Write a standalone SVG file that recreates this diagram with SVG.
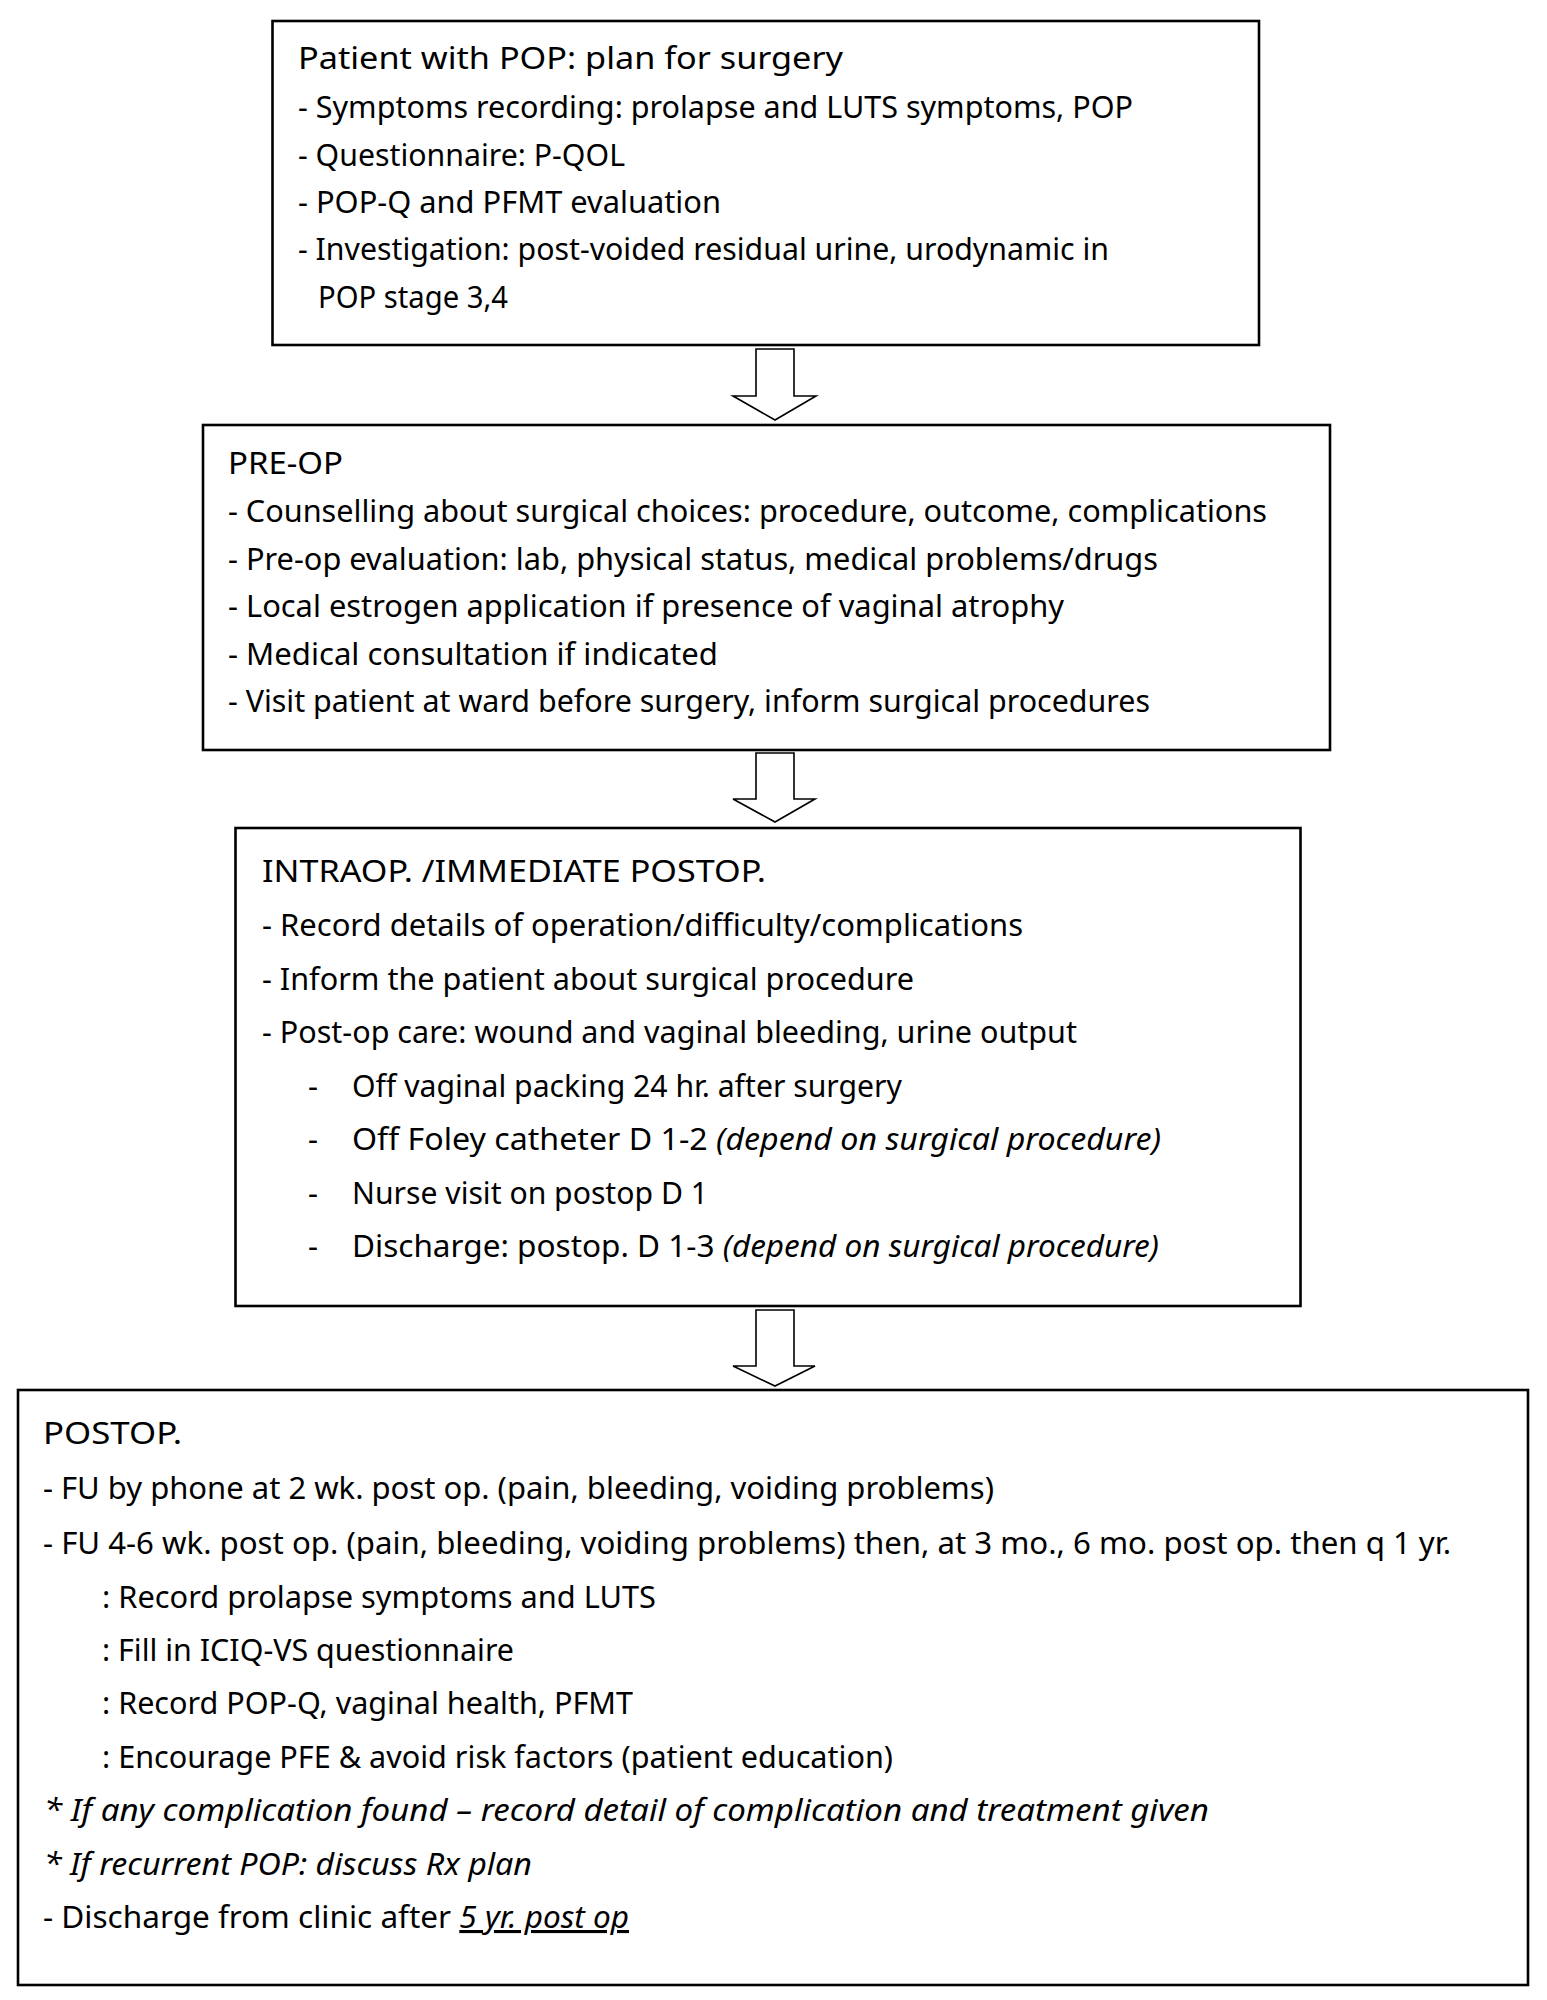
<svg xmlns="http://www.w3.org/2000/svg" width="1547" height="2000" viewBox="0 0 1547 2000">
<style>
.box{fill:#fff;stroke:#000;stroke-width:2.6}
.arrow{fill:#fff;stroke:#000;stroke-width:1.6;stroke-linejoin:miter}
text{font-family:"Noto Sans","Open Sans",sans-serif;fill:#000;font-size:30px}
.b3 text{font-size:31px}
.b4 text{font-size:31px}
.i{font-style:italic}
.u{text-decoration:underline}
</style>
<rect width="1547" height="2000" fill="#fff"/>
<g id="connectors">
<path class="arrow" d="M756,349 H794 V396 H816 L775,420 L733,396 H756 Z"/>
<path class="arrow" d="M756,753 H794 V799 H815 L775,822 L733,799 H756 Z"/>
<path class="arrow" d="M756,1310 H794 V1366 H815 L775,1386 L733,1366 H756 Z"/>
</g>
<g id="node-plan" class="b1">
<rect class="box" x="272.5" y="21" width="986.5" height="324"/>
<text x="298" y="69" textLength="545" lengthAdjust="spacingAndGlyphs">Patient with POP: plan for surgery</text>
<text x="298" y="118" textLength="835" lengthAdjust="spacingAndGlyphs">- Symptoms recording: prolapse and LUTS symptoms, POP</text>
<text x="298" y="166" textLength="327" lengthAdjust="spacingAndGlyphs">- Questionnaire: P-QOL</text>
<text x="298" y="213" textLength="423" lengthAdjust="spacingAndGlyphs">- POP-Q and PFMT evaluation</text>
<text x="298" y="260" textLength="811" lengthAdjust="spacingAndGlyphs">- Investigation: post-voided residual urine, urodynamic in</text>
<text x="318" y="308" textLength="190" lengthAdjust="spacingAndGlyphs">POP stage 3,4</text>
</g>
<g id="node-preop" class="b2">
<rect class="box" x="203" y="425" width="1127" height="325"/>
<text x="228" y="474" textLength="115" lengthAdjust="spacingAndGlyphs">PRE-OP</text>
<text x="228" y="522" textLength="1039" lengthAdjust="spacingAndGlyphs">- Counselling about surgical choices: procedure, outcome, complications</text>
<text x="228" y="570" textLength="930" lengthAdjust="spacingAndGlyphs">- Pre-op evaluation: lab, physical status, medical problems/drugs</text>
<text x="228" y="617" textLength="836" lengthAdjust="spacingAndGlyphs">- Local estrogen application if presence of vaginal atrophy</text>
<text x="228" y="665" textLength="490" lengthAdjust="spacingAndGlyphs">- Medical consultation if indicated</text>
<text x="228" y="712" textLength="922" lengthAdjust="spacingAndGlyphs">- Visit patient at ward before surgery, inform surgical procedures</text>
</g>
<g id="node-intraop" class="b3">
<rect class="box" x="235.5" y="828" width="1065" height="478"/>
<text x="262" y="882" textLength="504" lengthAdjust="spacingAndGlyphs">INTRAOP. /IMMEDIATE POSTOP.</text>
<text x="262" y="936" textLength="761" lengthAdjust="spacingAndGlyphs">- Record details of operation/difficulty/complications</text>
<text x="262" y="990" textLength="652" lengthAdjust="spacingAndGlyphs">- Inform the patient about surgical procedure</text>
<text x="262" y="1043" textLength="815" lengthAdjust="spacingAndGlyphs">- Post-op care: wound and vaginal bleeding, urine output</text>
<text x="308" y="1097">-</text>
<text x="352" y="1097" textLength="550" lengthAdjust="spacingAndGlyphs">Off vaginal packing 24 hr. after surgery</text>
<text x="308" y="1150">-</text>
<text x="352" y="1150" textLength="809" lengthAdjust="spacingAndGlyphs">Off Foley catheter D 1-2 <tspan class="i">(depend on surgical procedure)</tspan></text>
<text x="308" y="1204">-</text>
<text x="352" y="1204" textLength="356" lengthAdjust="spacingAndGlyphs">Nurse visit on postop D 1</text>
<text x="308" y="1257">-</text>
<text x="352" y="1257" textLength="807" lengthAdjust="spacingAndGlyphs">Discharge: postop. D 1-3 <tspan class="i">(depend on surgical procedure)</tspan></text>
</g>
<g id="node-postop" class="b4">
<rect class="box" x="18" y="1390" width="1510" height="595"/>
<text x="43" y="1444" textLength="139" lengthAdjust="spacingAndGlyphs">POSTOP.</text>
<text x="43" y="1499" textLength="951" lengthAdjust="spacingAndGlyphs">- FU by phone at 2 wk. post op. (pain, bleeding, voiding problems)</text>
<text x="43" y="1554" textLength="1408" lengthAdjust="spacingAndGlyphs">- FU 4-6 wk. post op. (pain, bleeding, voiding problems) then, at 3 mo., 6 mo. post op. then q 1 yr.</text>
<text x="102" y="1608" textLength="554" lengthAdjust="spacingAndGlyphs">: Record prolapse symptoms and LUTS</text>
<text x="102" y="1661" textLength="412" lengthAdjust="spacingAndGlyphs">: Fill in ICIQ-VS questionnaire</text>
<text x="102" y="1714" textLength="531" lengthAdjust="spacingAndGlyphs">: Record POP-Q, vaginal health, PFMT</text>
<text x="102" y="1768" textLength="791" lengthAdjust="spacingAndGlyphs">: Encourage PFE &amp; avoid risk factors (patient education)</text>
<text class="i" x="44" y="1821" textLength="1165" lengthAdjust="spacingAndGlyphs">* If any complication found – record detail of complication and treatment given</text>
<text class="i" x="44" y="1875" textLength="488" lengthAdjust="spacingAndGlyphs">* If recurrent POP: discuss Rx plan</text>
<text x="43" y="1928" textLength="586" lengthAdjust="spacingAndGlyphs">- Discharge from clinic after <tspan class="i u">5 yr. post op</tspan></text>
</g>
</svg>
